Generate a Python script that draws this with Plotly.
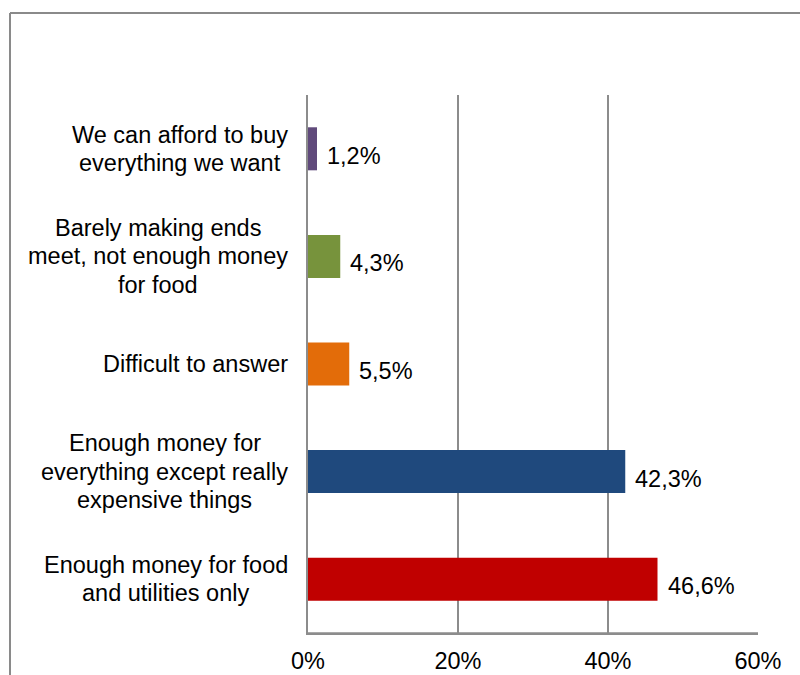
import plotly.graph_objects as go

categories = [
    "Enough money for food<br>and utilities only",
    "Enough money for<br>everything except really<br>expensive things",
    "Difficult to answer",
    "Barely making ends<br>meet, not enough money<br>for food",
    "We can afford to buy<br>everything we want",
]
values = [46.6, 42.3, 5.5, 4.3, 1.2]
colors = ["#C00000", "#1F497D", "#E36C09", "#77933C", "#604A7B"]
x_ticks = [0, 20, 40, 60]
x_tick_labels = ["0%", "20%", "40%", "60%"]

FONT = "Liberation Sans, Arial, sans-serif"
FS = 23.5
LINE_H = 28.5

W, H = 800, 675
L, R, T, B = 308, 42, 95, 42
pw, ph = W - L - R, H - T - B


def text_w(s):
    widths = {"i": .222, "l": .222, "j": .222, "f": .278, "t": .278, " ": .278, "r": .333,
              ",": .278, "m": .833, "w": .722, "W": .944, "E": .667, "B": .667, "D": .722,
              "y": .5, "v": .5, "k": .5, "x": .5, "c": .5, "s": .5}
    return sum(widths.get(ch, .556) for ch in s) * FS


fig = go.Figure()
fig.add_trace(go.Bar(
    y=list(range(len(categories))),
    x=values,
    orientation="h",
    marker=dict(color=colors, line=dict(width=0)),
    hoverinfo="skip",
))

annotations = []
for i, (c, v) in enumerate(zip(categories, values)):
    annotations.append(dict(
        x=v, y=i, xref="x", yref="y", text=f"{v:.1f}%".replace(".", ","),
        showarrow=False, xanchor="left", yanchor="middle", xshift=8, yshift=-7,
        font=dict(family=FONT, size=FS, color="#000000"),
    ))
    lines = c.split("<br>")
    n = len(lines)
    bw = max(text_w(ln) for ln in lines)
    for k, ln in enumerate(lines):
        annotations.append(dict(
            x=0, y=i, xref="paper", yref="y", text=ln,
            showarrow=False, xanchor="center", yanchor="middle",
            xshift=-20 - bw / 2,
            yshift=((n - 1) / 2 - k) * LINE_H,
            font=dict(family=FONT, size=FS, color="#000000"),
        ))

# outer frame (border of chart area, extends beyond visible window)
x0 = (10 - L) / pw
y0 = (H - B - 13) / ph
shapes = [
    dict(type="line", xref="paper", yref="paper", x0=x0, x1=(W + 20 - L) / pw,
         y0=y0, y1=y0, line=dict(color="#8A8A8A", width=2)),
    dict(type="line", xref="paper", yref="paper", x0=x0, x1=x0,
         y0=y0, y1=-(B + 20) / ph, line=dict(color="#8A8A8A", width=2)),
    dict(type="line", xref="paper", yref="paper", x0=0, x1=1, y0=0, y1=0,
         line=dict(color="#8C8C8C", width=1.5)),
]

fig.update_layout(
    width=W, height=H,
    margin=dict(l=L, r=R, t=T, b=B, autoexpand=False),
    paper_bgcolor="white", plot_bgcolor="white",
    showlegend=False,
    bargap=0.6,
    annotations=annotations,
    shapes=shapes,
    xaxis=dict(
        range=[0, 60], tickvals=x_ticks, ticktext=x_tick_labels,
        showgrid=True, gridcolor="#8C8C8C", gridwidth=1.5,
        showline=True, linecolor="#8C8C8C", linewidth=1.5, mirror=False,
        zeroline=False, ticks="", ticklabelstandoff=6, automargin=False,
        tickfont=dict(family=FONT, size=FS, color="#000000"),
        fixedrange=True,
    ),
    yaxis=dict(
        range=[-0.5, len(categories) - 0.5],
        showticklabels=False, showgrid=False, zeroline=False,
        showline=True, linecolor="#8C8C8C", linewidth=1.5,
        fixedrange=True, automargin=False,
    ),
)

fig.write_html("out.html")
